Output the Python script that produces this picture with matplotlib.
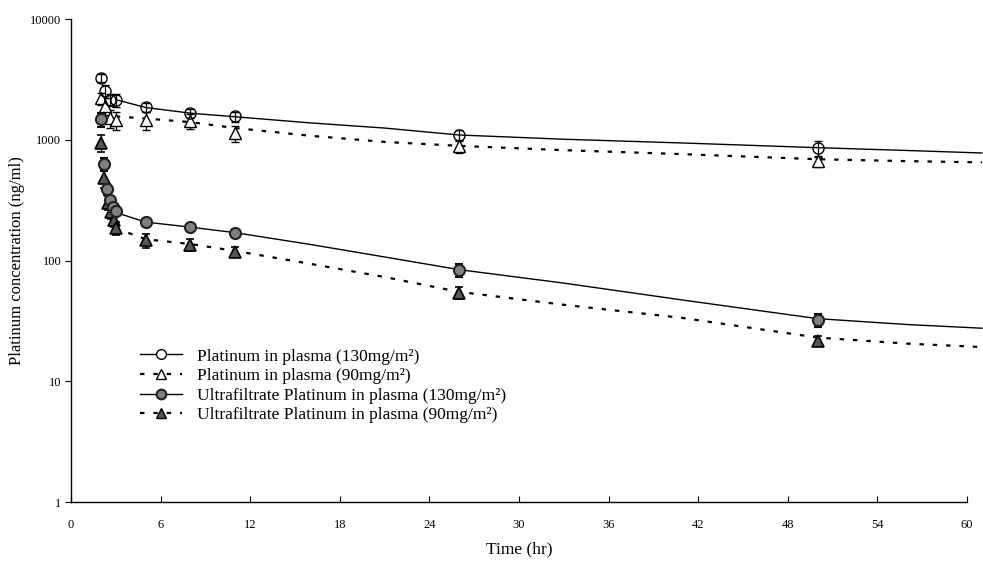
#!/usr/bin/env python3

import matplotlib
matplotlib.use("Agg")
import matplotlib.pyplot as plt

plt.rcParams['font.family'] = ['Liberation Serif', 'DejaVu Serif']

# Measured points (time in hr, concentration in ng/ml)
plat130_t = [2, 2.25, 2.6, 3, 5, 8, 11, 26, 50]
plat130_y = [3250, 2530, 2150, 2130, 1850, 1660, 1560, 1095, 850]
plat130_err = [250, 300, 250, 250, 150, 150, 150, 100, 130]

plat90_t = [2, 2.25, 2.6, 3, 5, 8, 11, 26, 50]
plat90_y = [2200, 1900, 1500, 1450, 1450, 1430, 1130, 880, 670]
plat90_err = [250, 300, 250, 250, 250, 200, 180, 100, 70]

uf130_t = [2, 2.2, 2.4, 2.6, 2.8, 3, 5, 8, 11, 26, 50]
uf130_y = [1480, 630, 390, 315, 275, 255, 208, 189, 170, 83, 32]
uf130_err = [200, 80, 40, 30, 25, 15, 12, 10, 10, 10, 4]

uf90_t = [2, 2.2, 2.5, 2.7, 2.9, 3, 5, 8, 11, 26, 50]
uf90_y = [940, 480, 300, 250, 215, 185, 147, 135, 118, 54, 21.5]
uf90_err = [150, 80, 40, 30, 25, 22, 20, 15, 12, 6, 2]

# Fitted curves
fit_t = [3, 5, 8, 11, 16, 21, 26, 33, 41, 50, 56, 61]
fit_plat130 = [2150, 1850, 1660, 1550, 1380, 1250, 1095, 1010, 940, 860, 815, 777]
fit_plat90 = [1560, 1500, 1400, 1250, 1080, 960, 890, 820, 760, 690, 665, 650]
fit_uf130 = [250, 208, 189, 170, 136, 107, 84, 65, 47, 33, 29.5, 27.5]
fit_uf90 = [185, 150, 137, 120, 94, 73, 55, 43, 33.4, 23, 20.5, 19.2]

labels = ["Platinum in plasma (130mg/m²)",
          "Platinum in plasma (90mg/m²)",
          "Ultrafiltrate Platinum in plasma (130mg/m²)",
          "Ultrafiltrate Platinum in plasma (90mg/m²)"]

xticks = list(range(0, 61, 6))
yticks = [1, 10, 100, 1000, 10000]

fig = plt.figure(figsize=(9.83, 5.64), dpi=100)
ax = fig.add_axes([0.0722, 0.1099, 0.9115, 0.8564])

dash = (0, (2, 4))
ebkw = dict(ecolor='black', elinewidth=0.9, capsize=3, capthick=0.9, linestyle='none')

# fitted lines
ax.plot(fit_t, fit_plat130, color='black', lw=1.0, clip_on=False)
ax.plot(fit_t, fit_plat90, color='black', lw=1.6, linestyle=dash, clip_on=False)
ax.plot(fit_t, fit_uf130, color='black', lw=1.0, clip_on=False)
ax.plot(fit_t, fit_uf90, color='black', lw=1.6, linestyle=dash, clip_on=False)

# data points with error bars
ax.errorbar(plat90_t, plat90_y, yerr=plat90_err, marker='^', ms=8,
            mfc='white', mec='black', mew=1.0, **ebkw)
ax.errorbar(plat130_t, plat130_y, yerr=plat130_err, marker='o', ms=8,
            mfc='none', mec='black', mew=1.0, **ebkw)
ax.errorbar(uf90_t, uf90_y, yerr=uf90_err, marker='^', ms=8,
            mfc='#555555', mec='black', mew=1.2, **ebkw)
ax.errorbar(uf130_t, uf130_y, yerr=uf130_err, marker='o', ms=8,
            mfc='#808080', mec='#222222', mew=1.5, **ebkw)

# legend handles
h1, = ax.plot([], [], color='black', lw=1.0, marker='o', ms=7, mfc='white', mec='black')
h2, = ax.plot([], [], color='black', lw=1.6, linestyle=dash, marker='^', ms=7, mfc='white', mec='black')
h3, = ax.plot([], [], color='black', lw=1.0, marker='o', ms=7, mfc='#808080', mec='#222222', mew=1.5)
h4, = ax.plot([], [], color='black', lw=1.6, linestyle=dash, marker='^', ms=7, mfc='#555555', mec='black')
ax.legend([h1, h2, h3, h4], labels, loc='upper left', bbox_to_anchor=(0.077, 0.318),
          frameon=False, fontsize=12.5, handlelength=2.4, handletextpad=0.9,
          labelspacing=0.2, borderpad=0, borderaxespad=0)

ax.set_yscale('log')
ax.set_xlim(0, 60)
ax.set_ylim(1, 10000)
ax.set_xticks(xticks)
ax.set_xticklabels([str(x) for x in xticks])
ax.set_yticks(yticks)
ax.set_yticklabels([str(y) for y in yticks])
ax.minorticks_off()
ax.tick_params(axis='x', direction='in', length=4, labelsize=9, pad=12)
ax.tick_params(axis='y', direction='out', length=4, labelsize=9, pad=3)

for s in ['top', 'right']:
    ax.spines[s].set_visible(False)
for s in ['left', 'bottom']:
    ax.spines[s].set_linewidth(1.0)

ax.set_xlabel('Time (hr)', fontsize=12.5, labelpad=8)
ax.set_ylabel('Platinum concentration (ng/ml)', fontsize=12)
ax.yaxis.set_label_coords(-0.051, 0.5)

plt.savefig('out.png', dpi=100)
